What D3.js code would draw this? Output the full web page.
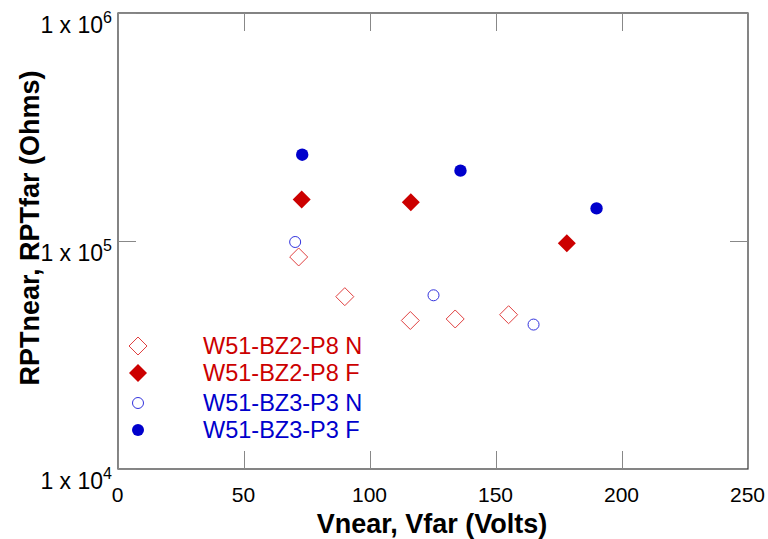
<!DOCTYPE html>
<html>
<head>
<meta charset="utf-8">
<script src="https://cdn.jsdelivr.net/npm/d3@7"></script>
<style>
  body { margin: 0; background: #fff; }
  svg { display: block; font-family: "Liberation Sans", Arial, sans-serif; }
</style>
</head>
<body>
<div id="chart"></div>
<script>
// data (volts, ohms)
const p8NearV = [71.7, 90.0, 116.0, 133.8, 155.0];
const p8NearR = [85100, 57000, 44800, 45500, 47500];
const p8FarV = [72.9, 116.2, 178.1];
const p8FarR = [152000, 148000, 97700];
const p3NearV = [70.3, 125.2, 164.9];
const p3NearR = [99000, 57800, 43000];
const p3FarV = [73.1, 135.9, 189.9];
const p3FarR = [239000, 203500, 139000];

const xTicks = [0, 50, 100, 150, 200, 250];
const yTicks = [1e4, 1e5, 1e6];
const seriesNames = ["W51-BZ2-P8 N", "W51-BZ2-P8 F", "W51-BZ3-P3 N", "W51-BZ3-P3 F"];

const width = 768, height = 539;
const margin = { top: 13, right: 20, bottom: 70, left: 118 };
const red = "#cc0000", blue = "#0000cc";

const svg = d3.select("#chart").append("svg")
  .attr("width", width)
  .attr("height", height);

const x = d3.scaleLinear().domain([0, 250]).range([margin.left, width - margin.right]);
const y = d3.scaleLog().domain([1e4, 1e6]).range([height - margin.bottom, margin.top]);

// frame
svg.append("rect")
  .attr("x", x(0)).attr("y", y(1e6))
  .attr("width", x(250) - x(0)).attr("height", y(1e4) - y(1e6))
  .attr("fill", "none").attr("stroke", "#333").attr("stroke-width", 1.2);

// bottom axis, ticks pointing in
const xAxis = svg.append("g")
  .attr("transform", `translate(0,${y(1e4)})`)
  .call(d3.axisBottom(x).tickValues(xTicks).tickSizeInner(-18).tickSizeOuter(0).tickPadding(18));
xAxis.select(".domain").remove();
xAxis.selectAll(".tick line").attr("stroke", "#888");
xAxis.selectAll(".tick text")
  .attr("font-size", 21).attr("fill", "#000")
  .attr("font-family", "Liberation Sans, Arial, sans-serif")
  .attr("dy", null).attr("y", 33)
  .attr("x", -1);

// top axis, only tick marks
const xTop = svg.append("g")
  .attr("transform", `translate(0,${y(1e6)})`)
  .call(d3.axisTop(x).tickValues(xTicks).tickSizeInner(-18).tickSizeOuter(0).tickFormat(""));
xTop.select(".domain").remove();
xTop.selectAll(".tick line").attr("stroke", "#888");

// left axis with 1 x 10^n labels
const yAxis = svg.append("g")
  .attr("transform", `translate(${x(0)},0)`)
  .call(d3.axisLeft(y).tickValues(yTicks).tickSizeInner(-18).tickSizeOuter(0).tickPadding(6).tickFormat(""));
yAxis.select(".domain").remove();
yAxis.selectAll(".tick line").attr("stroke", "#888");
yAxis.selectAll(".tick text")
  .attr("font-size", 23).attr("fill", "#000")
  .attr("font-family", "Liberation Sans, Arial, sans-serif")
  .attr("dy", null).attr("y", 19)
  .each(function(d) {
    const t = d3.select(this);
    t.append("tspan").text("1 x 10");
    t.append("tspan").attr("font-size", 16).attr("dy", -10).text(Math.round(Math.log10(d)));
  });

// right axis, only tick marks
const yRight = svg.append("g")
  .attr("transform", `translate(${x(250)},0)`)
  .call(d3.axisRight(y).tickValues(yTicks).tickSizeInner(-18).tickSizeOuter(0).tickFormat(""));
yRight.select(".domain").remove();
yRight.selectAll(".tick line").attr("stroke", "#888");

// axis titles
svg.append("text")
  .attr("x", (x(0) + x(250)) / 2 - 1)
  .attr("y", 533)
  .attr("text-anchor", "middle")
  .attr("font-size", 27).attr("font-weight", "bold")
  .text("Vnear, Vfar (Volts)");

svg.append("text")
  .attr("transform", "translate(39,228) rotate(-90)")
  .attr("text-anchor", "middle")
  .attr("font-size", 27).attr("font-weight", "bold")
  .text("RPTnear, RPTfar (Ohms)");

// markers
function diamondPath(half) {
  return `M0,${-half}L${half},0L0,${half}L${-half},0Z`;
}

const plot = svg.append("g");

plot.selectAll(".p8n").data(p8NearV).join("path")
  .attr("transform", (d, i) => `translate(${x(d)},${y(p8NearR[i])})`)
  .attr("d", diamondPath(9))
  .attr("fill", "none").attr("stroke", "#e04040").attr("stroke-width", 1);

plot.selectAll(".p8f").data(p8FarV).join("path")
  .attr("transform", (d, i) => `translate(${x(d)},${y(p8FarR[i])})`)
  .attr("d", diamondPath(9))
  .attr("fill", red);

plot.selectAll(".p3n").data(p3NearV).join("circle")
  .attr("cx", d => x(d)).attr("cy", (d, i) => y(p3NearR[i]))
  .attr("r", 5.5)
  .attr("fill", "none").attr("stroke", "#3333dd").attr("stroke-width", 1);

plot.selectAll(".p3f").data(p3FarV).join("circle")
  .attr("cx", d => x(d)).attr("cy", (d, i) => y(p3FarR[i]))
  .attr("r", 6.2)
  .attr("fill", blue);

// legend
const legendY = [346, 373, 403, 430];
const legend = svg.append("g");
seriesNames.forEach((name, i) => {
  const g = legend.append("g").attr("transform", `translate(138,${legendY[i]})`);
  if (i === 0) g.append("path").attr("d", diamondPath(9)).attr("fill", "none").attr("stroke", "#e04040");
  if (i === 1) g.append("path").attr("d", diamondPath(9)).attr("fill", red);
  if (i === 2) g.append("circle").attr("r", 5.5).attr("fill", "none").attr("stroke", "#3333dd");
  if (i === 3) g.append("circle").attr("r", 6).attr("fill", blue);
  g.append("text")
    .attr("x", 65).attr("y", 8)
    .attr("font-size", 23.5)
    .attr("fill", i < 2 ? red : blue)
    .text(name);
});
</script>
</body>
</html>
